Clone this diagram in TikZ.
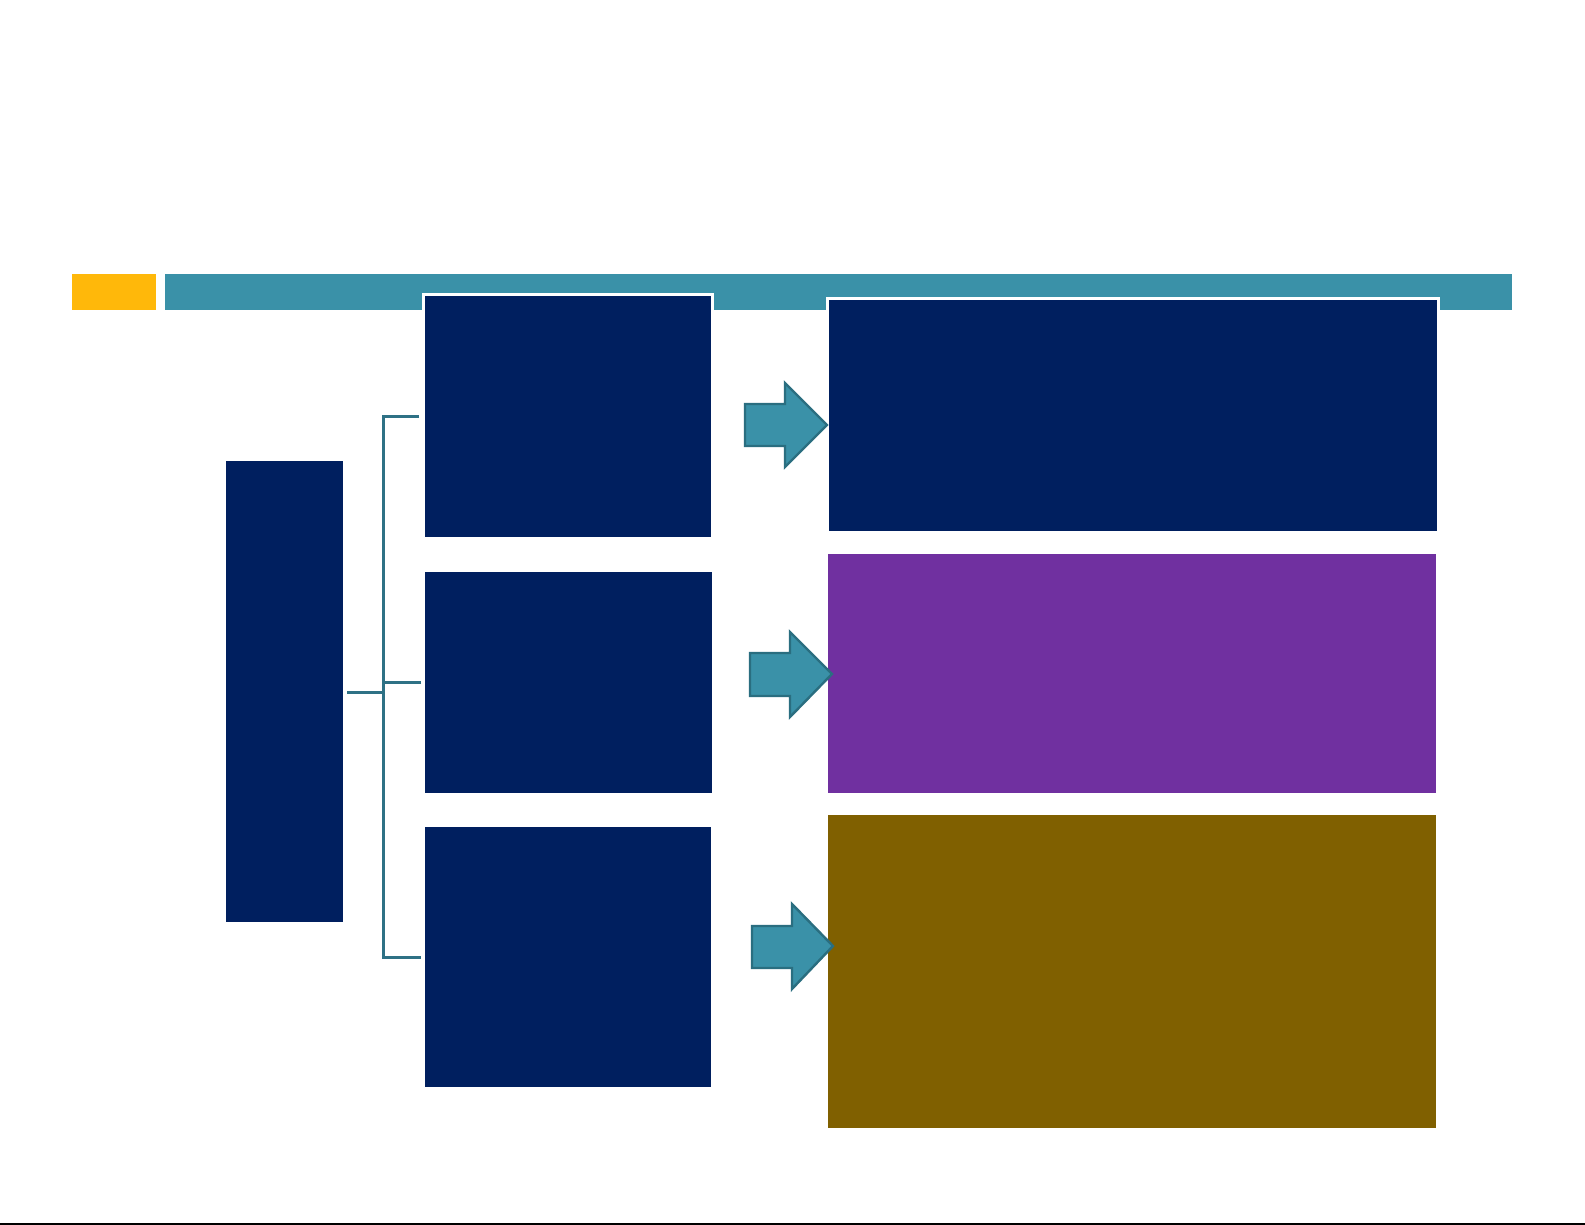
\documentclass[tikz,border=0pt]{standalone}
\usetikzlibrary{fit}
\definecolor{navy}{RGB}{0,31,95}
\definecolor{tealbar}{RGB}{58,145,168}
\definecolor{tealdark}{RGB}{42,110,128}
\definecolor{linecol}{RGB}{46,113,133}
\definecolor{gold}{RGB}{255,184,10}
\definecolor{purp}{RGB}{112,48,160}
\definecolor{brown}{RGB}{128,96,0}
\tikzset{
  px/.style={x=0.5pt,y=-0.5pt},
  box/.style={inner sep=0pt, outer sep=0pt, draw=none},
  wbox/.style={box, draw=white, line width=1.5pt},
  conn/.style={draw=linecol, line width=1.5pt},
  bigarrow/.style={fill=tealbar, draw=tealdark, line width=1.2pt, line join=miter}
}
\begin{document}
\begin{tikzpicture}[px]
\useasboundingbox (0,0) rectangle (1585,1225);
\fill[white] (0,0) rectangle (1585,1225);
% header bars
\fill[gold] (72,274) rectangle (156,310);
\fill[tealbar] (165,274) rectangle (1512,310);
% left tall box
\node[box, fill=navy, fit={(226,461) (343,922)}] (L) {};
% middle column
\node[wbox, fill=navy, fit={(423,295) (712,538)}] (A) {};
\node[box, fill=navy, fit={(425,572) (712,793)}] (B) {};
\node[box, fill=navy, fit={(425,827) (711,1087)}] (C) {};
% right column
\node[wbox, fill=navy, fit={(827,299) (1438,532)}] (R1) {};
\node[box, fill=purp, fit={(828,554) (1436,793)}] (R2) {};
\node[box, fill=brown, fit={(828,815) (1436,1128)}] (R3) {};
% connectors
\coordinate (j) at (383,692);
\draw[conn] ([xshift=2pt]L.east |- j) -- (j);
\draw[conn] ([xshift=-2pt]A.west) -- (A.west -| j) -- (C.west -| j) -- ([xshift=-2pt]C.west);
\draw[conn] ([xshift=-2pt]B.west) -- (B.west -| j);
% arrows
\coordinate (t1) at (827,425);
\coordinate (t2) at (832,674);
\coordinate (t3) at (833,946);
\draw[bigarrow] (745,404) -- (785,404) -- (785,383) -- (t1) -- (785,467) -- (785,446) -- (745,446) -- cycle;
\draw[bigarrow] (750,653) -- (790,653) -- (790,632) -- (t2) -- (790,717) -- (790,696) -- (750,696) -- cycle;
\draw[bigarrow] (752,926) -- (792,926) -- (792,904) -- (t3) -- (792,989) -- (792,968) -- (752,968) -- cycle;
% bottom rule
\draw[black, line width=1pt] (0,1223.5) -- (1585,1223.5);
\end{tikzpicture}
\end{document}
